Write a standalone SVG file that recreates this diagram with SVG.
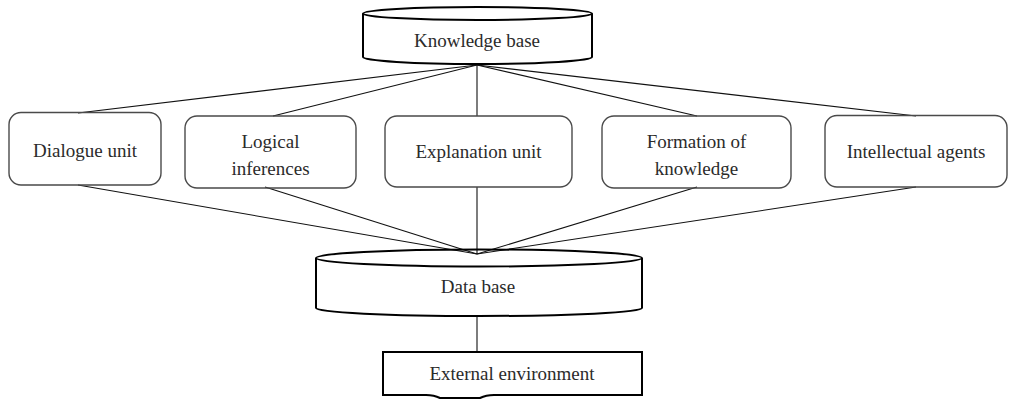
<svg xmlns="http://www.w3.org/2000/svg" width="1010" height="399" viewBox="0 0 1010 399">
<style>
.t{font-family:"Liberation Serif","Times New Roman",serif;font-size:19px;fill:#2b2b2b;text-anchor:middle}
.box{fill:none;stroke:#4a4a4a;stroke-width:1.4}
.cyl{fill:none;stroke:#000;stroke-width:2}
.ln{stroke:#111;stroke-width:1.1;fill:none}
</style>
<rect width="1010" height="399" fill="#fff"/>
<g id="connectors">
<line class="ln" x1="477" y1="65" x2="78" y2="113"/>
<line class="ln" x1="477" y1="65" x2="273" y2="116"/>
<line class="ln" x1="477" y1="65" x2="477" y2="116"/>
<line class="ln" x1="477" y1="65" x2="697" y2="116"/>
<line class="ln" x1="477" y1="65" x2="916" y2="116"/>
<line class="ln" x1="78" y1="185" x2="477" y2="254"/>
<line class="ln" x1="265" y1="187" x2="477" y2="254"/>
<line class="ln" x1="477" y1="187" x2="477" y2="254"/>
<line class="ln" x1="697" y1="187" x2="477" y2="254"/>
<line class="ln" x1="916" y1="187" x2="477" y2="254"/>
<line class="ln" x1="477" y1="316" x2="477" y2="352"/>
</g>
<g id="knowledge-base">
<ellipse class="cyl" cx="477.5" cy="13.5" rx="114.5" ry="6.5"/>
<path class="cyl" d="M363,13.5 V57 A114.5,7 0 0 0 592,57 V13.5"/>
<text class="t" x="477" y="47">Knowledge base</text>
</g>
<g id="dialogue-unit">
<rect class="box" x="9" y="112.5" width="152" height="72.5" rx="12"/>
<text class="t" x="85" y="157">Dialogue unit</text>
</g>
<g id="logical-inferences">
<rect class="box" x="185" y="116" width="171" height="72" rx="12"/>
<text class="t" x="270.5" y="147.5">Logical</text>
<text class="t" x="270.5" y="174.5">inferences</text>
</g>
<g id="explanation-unit">
<rect class="box" x="385" y="116" width="187" height="71" rx="12"/>
<text class="t" x="478.5" y="158">Explanation unit</text>
</g>
<g id="formation-of-knowledge">
<rect class="box" x="602" y="116" width="189" height="72" rx="12"/>
<text class="t" x="696.5" y="147.5">Formation of</text>
<text class="t" x="696.5" y="174.5">knowledge</text>
</g>
<g id="intellectual-agents">
<rect class="box" x="825" y="115.5" width="182" height="71.5" rx="12"/>
<text class="t" x="916" y="158">Intellectual agents</text>
</g>
<g id="data-base">
<ellipse class="cyl" cx="479" cy="258" rx="163" ry="8.5"/>
<path class="cyl" d="M316,258 V308 A163,8 0 0 0 642,308 V258"/>
<text class="t" x="478" y="293">Data base</text>
</g>
<g id="external-environment">
<path class="cyl" d="M383,352 H642 V395 H494 Q486,395 480,398 H440 Q434,395 426,395 H383 Z"/>
<text class="t" x="512" y="380">External environment</text>
</g>
</svg>
